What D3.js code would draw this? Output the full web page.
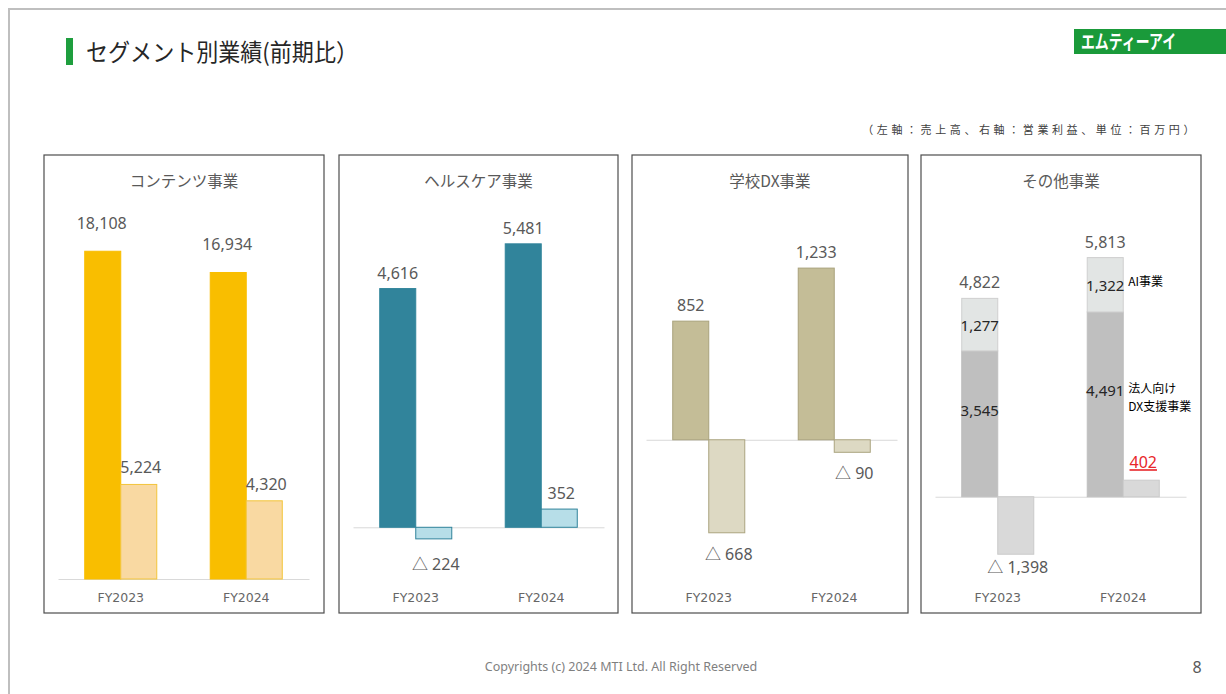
<!DOCTYPE html>
<meta charset="utf-8">
<style>
  body { margin: 0; background: #fff; }
  text { font-family: "Noto Sans", "Noto Sans CJK JP", sans-serif; }
</style>
<svg id="chart" width="1226" height="694"></svg>
<script src="https://cdn.jsdelivr.net/npm/d3@7"></script>
<script>
// data (単位：百万円)
var years = ["FY2023", "FY2024"];
var segments = ["コンテンツ事業", "ヘルスケア事業", "学校DX事業", "その他事業"];
var sales = [[18108, 16934], [4616, 5481], [852, 1233], [4822, 5813]];
var opProfit = [[5224, 4320], [-224, 352], [-668, -90], [-1398, 402]];
// その他事業 breakdown of sales
var otherDX = [3545, 4491];   // 法人向けDX支援事業
var otherAI = [1277, 1322];   // AI事業
var yDomains = [[0, 20000], [-1000, 6000], [-1000, 1600], [-2000, 6800]];

// look
var panelLeft = [44, 339, 632, 921];
var panelWidth = [280, 279, 276, 280];
var panelTop = 155, panelBottom = 613;
var plotTop = 217, plotBottom = 579;
var salesFill = ["#F9BE00", "#31849B", "#C4BD97", "#BFBFBF"];
var salesStroke = ["#F9BE00", "#31849B", "#A9A27C", "#BFBFBF"];
var opFill = ["#F9D9A2", "#B7DEE8", "#DDD9C3", "#D9D9D9"];
var opStroke = ["#F3C53A", "#31849B", "#ABA47F", "#CACACA"];
var gaps = [{s: 22, p: 11, n: 0}, {s: 10, p: 10, n: 31}, {s: 10, p: 10, n: 27}, {s: 10, p: 12, n: 19}];

var svg = d3.select("#chart");

// page frame
svg.append("path").attr("d", "M9,694 V9 H1226")
  .attr("fill", "none").attr("stroke", "#BFBFBF").attr("stroke-width", 2);

// title
svg.append("rect").attr("x", 66).attr("y", 38).attr("width", 7).attr("height", 27).attr("fill", "#1E9E3E");
svg.append("text").attr("x", 86).attr("y", 61)
  .style("font-family", "'Noto Sans CJK JP'").style("font-size", "24px").attr("fill", "#262626")
  .attr("textLength", 272).attr("lengthAdjust", "spacingAndGlyphs")
  .text("セグメント別業績(前期比）");

// logo
svg.append("rect").attr("x", 1074).attr("y", 29).attr("width", 152).attr("height", 25).attr("fill", "#1A9A3A");
svg.append("text").attr("x", 1081).attr("y", 49)
  .style("font-family", "'Noto Sans CJK JP'").style("font-size", "19px").style("font-weight", "bold")
  .attr("fill", "#fff").attr("textLength", 95).attr("lengthAdjust", "spacingAndGlyphs")
  .text("エムティーアイ");

// unit note
svg.append("text").attr("x", 1198).attr("y", 134).attr("text-anchor", "end")
  .style("font-family", "'Noto Sans CJK JP'").style("font-size", "11px").style("letter-spacing", "3.6px")
  .attr("fill", "#404040")
  .text("（左軸：売上高、右軸：営業利益、単位：百万円）");

function fmt(v) {
  return v < 0 ? "△ " + d3.format(",")(-v) : d3.format(",")(v);
}

segments.forEach(function(name, i) {
  var g = svg.append("g").attr("transform", "translate(" + panelLeft[i] + ",0)");

  g.append("rect").attr("x", 0).attr("y", panelTop)
    .attr("width", panelWidth[i]).attr("height", panelBottom - panelTop)
    .attr("fill", "#fff").attr("stroke", "#4D4D4D").attr("stroke-width", 1.2);

  g.append("text").attr("x", panelWidth[i] / 2).attr("y", 187).attr("text-anchor", "middle")
    .style("font-family", "'Noto Sans CJK JP'").style("font-size", "15.5px").attr("fill", "#595959")
    .text(name);

  var x = d3.scaleBand().domain(years).range([14, 265]).paddingInner(0.426).paddingOuter(0.213);
  var x1 = d3.scaleBand().domain(["sales", "op"]).range([0, x.bandwidth()]);
  var y = d3.scaleLinear().domain(yDomains[i]).range([plotBottom, plotTop]);

  // category axis on the zero line
  var axis = g.append("g").attr("transform", "translate(0," + y(0) + ")")
    .call(d3.axisBottom(x).tickSize(0).tickSizeOuter(0));
  axis.select(".domain").attr("stroke", "#D9D9D9");
  axis.selectAll(".tick text")
    .attr("y", 602 - y(0)).attr("dy", 0)
    .style("font-family", "'DejaVu Sans'").style("font-size", "12.5px").attr("fill", "#666");

  var rows = years.map(function(yr, j) { return {year: yr, s: sales[i][j], p: opProfit[i][j], j: j}; });

  // sales bars
  if (i < 3) {
    g.selectAll(".sales").data(rows).enter().append("rect")
      .attr("x", function(d) { return x(d.year) + x1("sales"); })
      .attr("y", function(d) { return y(d.s); })
      .attr("width", x1.bandwidth())
      .attr("height", function(d) { return y(0) - y(d.s); })
      .attr("fill", salesFill[i]).attr("stroke", salesStroke[i]).attr("stroke-width", 1);
  } else {
    var stackRows = years.map(function(yr, j) { return {year: yr, dx: otherDX[j], ai: otherAI[j]}; });
    var stacked = d3.stack().keys(["dx", "ai"])(stackRows);
    var segFill = {dx: "#BFBFBF", ai: "#E2E5E4"};
    var segStroke = {dx: "#BFBFBF", ai: "#CFCFCF"};
    stacked.forEach(function(layer) {
      g.selectAll(".seg-" + layer.key).data(layer).enter().append("rect")
        .attr("x", function(d) { return x(d.data.year) + x1("sales"); })
        .attr("y", function(d) { return y(d[1]); })
        .attr("width", x1.bandwidth())
        .attr("height", function(d) { return y(d[0]) - y(d[1]); })
        .attr("fill", segFill[layer.key]).attr("stroke", segStroke[layer.key]);
      g.selectAll(".seglab-" + layer.key).data(layer).enter().append("text")
        .attr("x", function(d) { return x(d.data.year) + x1("sales") + x1.bandwidth() / 2; })
        .attr("y", function(d) {
          var mid = (y(d[0]) + y(d[1])) / 2;
          return (layer.key === "dx" ? mid - 14 : mid) + 6;
        })
        .attr("text-anchor", "middle").style("font-size", "15px").attr("fill", "#262626")
        .text(function(d) { return fmt(d[1] - d[0]); });
    });
    // series notes beside FY2024
    var last = stacked[0][1], lastAI = stacked[1][1];
    var nx = x(years[1]) + x1("sales") + x1.bandwidth() + 5;
    var nFont = "'Noto Sans CJK JP'";
    g.append("text").attr("x", nx).attr("y", (y(lastAI[0]) + y(lastAI[1])) / 2 + 1)
      .style("font-family", nFont).style("font-size", "12px").attr("fill", "#000").text("AI事業");
    var dxMid = (y(last[0]) + y(last[1])) / 2 - 14;
    g.append("text").attr("x", nx).attr("y", dxMid + 3)
      .style("font-family", nFont).style("font-size", "12px").attr("fill", "#000").text("法人向け");
    g.append("text").attr("x", nx).attr("y", dxMid + 21)
      .style("font-family", nFont).style("font-size", "12px").attr("fill", "#000").text("DX支援事業");
  }

  // sales labels
  g.selectAll(".slab").data(rows).enter().append("text")
    .attr("x", function(d) { return x(d.year) + x1("sales") + x1.bandwidth() / 2 + (i === 0 ? -1 : 0); })
    .attr("y", function(d) { return y(d.s) - gaps[i].s; })
    .attr("text-anchor", "middle").style("font-size", "16px").attr("fill", "#595959")
    .text(function(d) { return fmt(d.s); });

  // operating profit bars
  g.selectAll(".op").data(rows).enter().append("rect")
    .attr("x", function(d) { return x(d.year) + x1("op"); })
    .attr("y", function(d) { return y(Math.max(0, d.p)); })
    .attr("width", x1.bandwidth())
    .attr("height", function(d) { return Math.abs(y(d.p) - y(0)); })
    .attr("fill", opFill[i]).attr("stroke", opStroke[i]).attr("stroke-width", 1);

  g.selectAll(".plab").data(rows).enter().append("text")
    .attr("x", function(d) { return x(d.year) + x1("op") + x1.bandwidth() / 2 + 2; })
    .attr("y", function(d) { return d.p >= 0 ? y(d.p) - gaps[i].p : y(d.p) + gaps[i].n; })
    .attr("text-anchor", "middle").style("font-size", "16px")
    .attr("fill", function(d) { return i === 3 && d.p > 0 ? "#E8262A" : "#595959"; })
    .attr("text-decoration", function(d) { return i === 3 && d.p > 0 ? "underline" : null; })
    .text(function(d) { return fmt(d.p); });
});

// footer
svg.append("text").attr("x", 621).attr("y", 671).attr("text-anchor", "middle")
  .style("font-size", "12.5px").attr("fill", "#7F7F7F")
  .text("Copyrights (c) 2024 MTI Ltd. All Right Reserved");
svg.append("text").attr("x", 1197).attr("y", 673).attr("text-anchor", "middle")
  .style("font-size", "16px").attr("fill", "#595959").text("8");
</script>
